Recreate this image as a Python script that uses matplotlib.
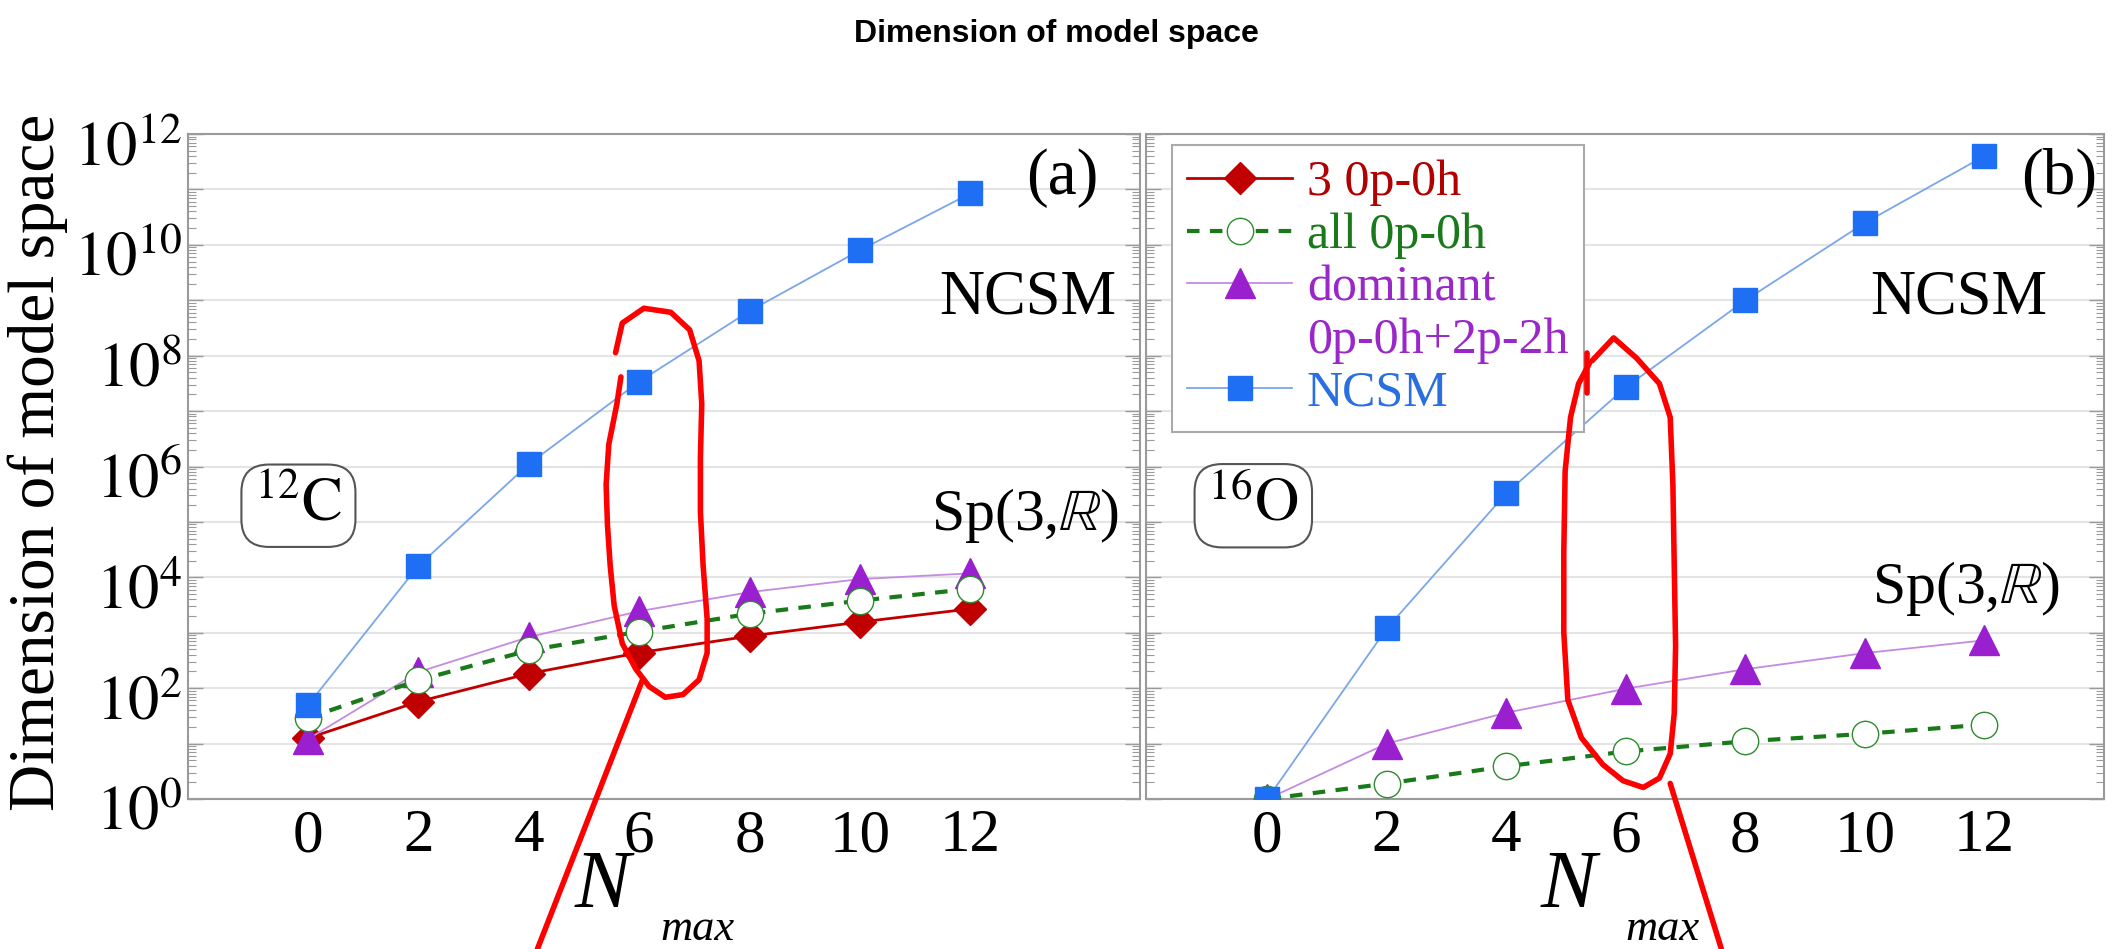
import numpy as np
import matplotlib
matplotlib.use("Agg")
import matplotlib.pyplot as plt
from matplotlib.lines import Line2D
from matplotlib.transforms import ScaledTranslation
from matplotlib.ticker import FixedLocator, FuncFormatter, LogLocator, NullFormatter

# ---------------- data ----------------
nmax = [0, 2, 4, 6, 8, 10, 12]
xtick_labels = ["0", "2", "4", "6", "8", "10", "12"]

c12_three_0p0h = [12.5, 57, 183, 437, 870, 1560, 2700]
c12_all_0p0h = [29, 139, 480, 1050, 2200, 3800, 6200]
c12_dominant = [12, 195, 835, 2450, 5400, 9300, 11800]
c12_ncsm = [49, 1.6e4, 1.1e6, 3.4e7, 6.4e8, 8.0e9, 8.5e10]

o16_all_0p0h = [1, 1.9, 3.9, 7.2, 11, 15, 22]
o16_dominant = [1, 10, 36, 98, 220, 430, 730]
o16_ncsm = [1, 1200, 3.3e5, 2.7e7, 1.0e9, 2.5e10, 4.0e11]

legend_labels = ["3 0p-0h", "all 0p-0h", "dominant", "0p-0h+2p-2h", "NCSM"]

# ---------------- style ----------------
plt.rcParams["font.family"] = ["Liberation Serif", "DejaVu Serif"]
plt.rcParams["mathtext.fontset"] = "stix"

RED = "#c00000"
GREEN = "#1a7a1a"
PURPLE_M = "#9a1fcf"
PURPLE_L = "#c58be0"
BLUE_M = "#1f6ff5"
BLUE_L = "#7aa6ea"
SPINE = "#9a9a9a"
GRID = "#e4e4e4"

W, H = 2112, 949
fig = plt.figure(figsize=(W / 100, H / 100), dpi=100)

def px_axes(x0, y0, x1, y1):
    return fig.add_axes([x0 / W, 1 - y1 / H, (x1 - x0) / W, (y1 - y0) / H])

ax_a = px_axes(188, 134, 1140, 799)
ax_b = px_axes(1146, 134, 2104, 799)


def log_label(v, pos):
    e = int(round(np.log10(v)))
    if e % 2 == 0:
        return r"$10^{%d}$" % e
    return ""


def style_axes(ax, xlim, show_ylabels):
    ax.set_yscale("log")
    ax.set_ylim(1, 1e12)
    ax.set_xlim(*xlim)
    ax.yaxis.set_major_locator(FixedLocator([10.0 ** k for k in range(0, 13)]))
    ax.yaxis.set_minor_locator(LogLocator(base=10, subs=np.arange(2, 10), numticks=40))
    ax.yaxis.set_minor_formatter(NullFormatter())
    if show_ylabels:
        ax.yaxis.set_major_formatter(FuncFormatter(log_label))
    else:
        ax.yaxis.set_major_formatter(NullFormatter())
    ax.set_xticks(nmax)
    ax.set_xticklabels(xtick_labels)
    ax.tick_params(axis="x", length=0, labelsize=44, pad=7)
    ax.tick_params(axis="y", which="major", direction="in", length=11, width=1,
                   color=SPINE, left=True, right=True, labelsize=45, pad=4)
    ax.tick_params(axis="y", which="minor", direction="in", length=6, width=0.8,
                   color=SPINE, left=True, right=True)
    for s in ax.spines.values():
        s.set_color(SPINE)
        s.set_linewidth(1.5)
    ax.grid(True, axis="y", which="major", color=GRID, lw=1.5)
    ax.set_axisbelow(True)


style_axes(ax_a, (-2.17, 15.07), True)
style_axes(ax_b, (-2.03, 14.0), False)

# shift the y tick labels slightly downward like the reference
shift = ScaledTranslation(0, -9 / 100, fig.dpi_scale_trans)
for lab in ax_a.get_yticklabels():
    lab.set_transform(lab.get_transform() + shift)

# ---------------- panel (a) ----------------
l_red, = ax_a.plot(nmax, c12_three_0p0h, color=RED, lw=2, marker="D", ms=16,
                   mfc=RED, mec=RED, zorder=3)
l_pur, = ax_a.plot(nmax, c12_dominant, color=PURPLE_L, lw=1.3, marker="^", ms=21,
                   mfc=PURPLE_M, mec=PURPLE_M, zorder=4)
l_grn, = ax_a.plot(nmax, c12_all_0p0h, color=GREEN, lw=3, ls=(0, (3, 2.5)), marker="o",
                   ms=19, mfc="white", mec="#2e8b2e", mew=1.0, zorder=5)
l_blu, = ax_a.plot(nmax, c12_ncsm, color=BLUE_L, lw=1.3, marker="s", ms=17,
                   mfc=BLUE_M, mec=BLUE_M, zorder=6)

# ---------------- panel (b) ----------------
ax_b.plot(nmax, o16_dominant, color=PURPLE_L, lw=1.3, marker="^", ms=21,
          mfc=PURPLE_M, mec=PURPLE_M, zorder=4)
ax_b.plot(nmax, o16_all_0p0h, color=GREEN, lw=3, ls=(0, (3, 2.5)), marker="o",
          ms=19, mfc="white", mec="#2e8b2e", mew=1.0, zorder=5)
ax_b.plot(nmax, o16_ncsm, color=BLUE_L, lw=1.3, marker="s", ms=17,
          mfc=BLUE_M, mec=BLUE_M, zorder=6)

# ---------------- texts ----------------
for ax, lab, lx in ((ax_a, "(a)", 0.918), (ax_b, "(b)", 0.953)):
    ax.text(lx, 0.934, lab, transform=ax.transAxes, ha="center", va="center", fontsize=47)
ax_a.text(0.882, 0.752, "NCSM", transform=ax_a.transAxes, ha="center", va="center", fontsize=45)
ax_b.text(0.848, 0.752, "NCSM", transform=ax_b.transAxes, ha="center", va="center", fontsize=45)
ax_a.text(0.879, 0.427, r"Sp(3,$\mathbb{R}$)", transform=ax_a.transAxes, ha="center",
          va="center", fontsize=43)
ax_b.text(0.856, 0.316, r"Sp(3,$\mathbb{R}$)", transform=ax_b.transAxes, ha="center",
          va="center", fontsize=43)

box = dict(boxstyle="round,pad=0.22,rounding_size=0.45", fc="white", ec="#555555", lw=1.5)
ax_a.text(0.116, 0.441, r"$^{12}\mathrm{C}$", transform=ax_a.transAxes, ha="center",
          va="center", fontsize=44, bbox=box, zorder=7)
ax_b.text(0.112, 0.441, r"$^{16}\mathrm{O}$", transform=ax_b.transAxes, ha="center",
          va="center", fontsize=44, bbox=box, zorder=7)

# N_max labels
for cx_n, cx_m in ((602, 697), (1568, 1662)):
    fig.text(cx_n / W, 1 - 887 / H, "N", style="italic", fontsize=60, ha="center", va="center")
    fig.text(cx_m / W, 1 - 929 / H, "max", style="italic", fontsize=32, ha="center", va="center")

fig.text(38 / W, 1 - 462 / H, "Dimension of model space", rotation=90, fontsize=47,
         ha="center", va="center")

fig.text(0.5, 1 - 34 / H, "Dimension of model space", ha="center", va="center",
         fontsize=23, fontweight="bold", family=["Liberation Sans", "DejaVu Sans"])

# ---------------- legend ----------------
blank = Line2D([], [], linestyle="none", marker=None)
handles = [l_red, l_grn, l_pur, blank, l_blu]
leg = ax_b.legend(handles, legend_labels, loc="upper left",
                  bbox_to_anchor=((1172 - 1146) / 958, 1 - (145 - 134) / 665),
                  borderaxespad=0, fontsize=36, frameon=True, fancybox=False,
                  edgecolor="#aaaaaa", framealpha=1, handlelength=2.1, handletextpad=0.3,
                  labelspacing=0.12, borderpad=0.3)
leg.get_frame().set_linewidth(1.5)
for t, c in zip(leg.get_texts(), ["#b00000", GREEN, "#9a28c8", "#9a28c8", "#2a6fe0"]):
    t.set_color(c)
leg.set_zorder(10)

# ---------------- red hand-drawn annotations (overview-pixel geometry) ----------------
SW, SH = 1568, 705
loop_a = [(457, 262), (462, 240), (478, 229), (498, 232), (512, 245), (519, 268), (521, 300),
          (520, 340), (520, 380), (522, 420), (525, 460), (525, 485), (519, 505), (507, 516),
          (494, 518), (482, 510), (472, 497), (462, 478), (456, 450), (453, 420), (451, 390),
          (450, 360), (452, 330), (458, 300), (461, 280)]
line_a = [(477, 505), (399, 705)]
loop_b = [(1182, 268), (1198, 251), (1215, 266), (1232, 285), (1240, 310), (1242, 360),
          (1243, 420), (1244, 480), (1243, 530), (1240, 560), (1232, 578), (1220, 585),
          (1205, 580), (1190, 568), (1174, 548), (1164, 520), (1161, 470), (1161, 410),
          (1162, 350), (1166, 310), (1172, 285), (1180, 270)]
stub_b = [(1178, 262), (1178, 292)]
line_b = [(1240, 582), (1278, 705)]
for path in (loop_a, line_a, loop_b, stub_b, line_b):
    xs = [p[0] / SW for p in path]
    ys = [1 - p[1] / SH for p in path]
    fig.add_artist(Line2D(xs, ys, transform=fig.transFigure, color="#ff0000", lw=4,
                          solid_capstyle="round", solid_joinstyle="round", zorder=20))

fig.savefig("out.png", dpi=100)
